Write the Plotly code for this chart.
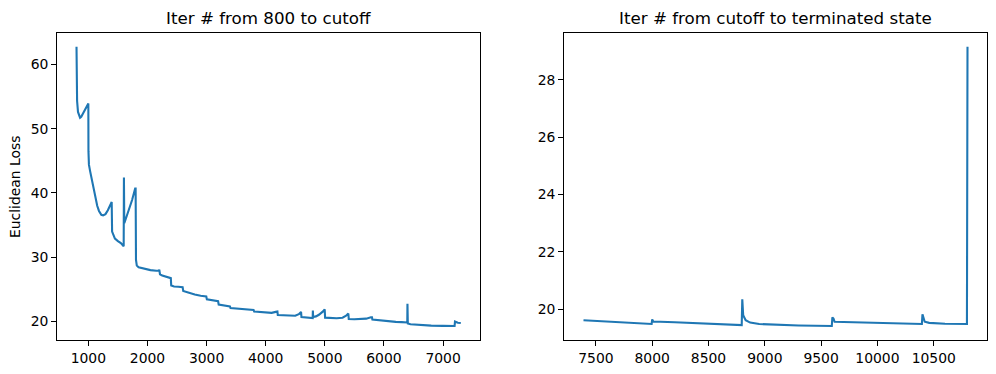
import plotly.graph_objects as go

# ---- data: left panel (iter 800 -> cutoff)
left_iter = [800, 801, 810, 825, 845, 860, 880, 900, 940, 990, 1000,
             1002, 1010, 1030, 1060, 1090, 1120, 1150, 1180, 1220, 1250, 1290, 1330, 1370, 1395,
             1402, 1420, 1450, 1500, 1550, 1598,
             1602, 1608, 1620, 1660, 1700, 1740, 1792,
             1800, 1806, 1820, 1850, 1950, 2050, 2150, 2190, 2200,
             2212, 2250, 2320, 2395,
             2402, 2450, 2520, 2595,
             2605, 2700, 2800, 2900, 2995,
             3005, 3100, 3195,
             3205, 3300, 3395,
             3405, 3500, 3600, 3700, 3795,
             3805, 3900, 4000, 4100, 4170, 4198,
             4205, 4300, 4400, 4500, 4560, 4598,
             4605, 4700, 4795, 4798,
             4802, 4850, 4900, 4960, 4998,
             5005, 5100, 5200, 5300, 5360, 5398,
             5405, 5500, 5600, 5700, 5780, 5798,
             5805, 5900, 6000, 6100, 6200, 6300, 6395, 6398,
             6404, 6450, 6600, 6800, 7000, 7195,
             7202, 7250, 7300]
left_loss = [62.75, 56.8, 54.3, 52.6, 51.8, 51.7, 51.85, 52.2, 53.0, 53.9, 53.9,
             46.5, 44.4, 43.4, 42.1, 40.7, 39.2, 38.0, 37.2, 36.6, 36.5, 36.7, 37.3, 38.1, 38.6,
             34.0, 33.5, 32.9, 32.5, 32.2, 31.7,
             42.4, 35.3, 35.6, 36.6, 37.7, 38.9, 40.7,
             40.7, 29.6, 28.7, 28.45, 28.2, 28.0, 27.9, 27.9, 28.05,
             27.35, 27.15, 26.95, 26.75,
             25.6, 25.45, 25.4, 25.35,
             24.75, 24.45, 24.2, 24.0, 23.9,
             23.45, 23.3, 23.15,
             22.65, 22.45, 22.35,
             22.1, 22.0, 21.9, 21.85, 21.8,
             21.55, 21.45, 21.38, 21.35, 21.5, 21.55,
             21.0, 20.95, 20.9, 20.9, 21.15, 21.5,
             20.7, 20.62, 20.55, 21.7,
             20.7, 20.8, 21.05, 21.5, 21.9,
             20.6, 20.52, 20.5, 20.6, 20.9, 21.25,
             20.4, 20.35, 20.35, 20.45, 20.65, 20.65,
             20.3, 20.2, 20.1, 20.0, 19.95, 19.9, 19.85, 22.75,
             19.7, 19.58, 19.45, 19.36, 19.32, 19.3,
             20.0, 19.82, 19.78]

# ---- data: right panel (cutoff -> terminated state)
right_iter = [7390, 7500, 7700, 7900, 7995,
              8000, 8010, 8200, 8400, 8600, 8795,
              8800, 8808, 8830, 8870, 8950, 9100, 9300, 9595,
              9600, 9610, 9620, 9700, 9900, 10100, 10395,
              10400, 10410, 10420, 10460, 10600, 10795,
              10800]
right_loss = [19.62, 19.6, 19.56, 19.51, 19.49,
              19.65, 19.58, 19.55, 19.51, 19.48, 19.45,
              20.35, 19.8, 19.62, 19.54, 19.49, 19.46, 19.44, 19.42,
              19.72, 19.68, 19.57, 19.56, 19.54, 19.52, 19.49,
              19.83, 19.7, 19.57, 19.53, 19.5, 19.49,
              29.15]

left_ticks = [1000, 2000, 3000, 4000, 5000, 6000, 7000]
left_yticks = [20, 30, 40, 50, 60]
right_ticks = [7500, 8000, 8500, 9000, 9500, 10000, 10500]
right_yticks = [20, 22, 24, 26, 28]

titles = ["Iter # from 800 to cutoff", "Iter # from cutoff to terminated state"]
ylabel = "Euclidean Loss"


def padded(v, frac=0.05):
    lo, hi = min(v), max(v)
    d = (hi - lo) * frac
    return [lo - d, hi + d]


# page body has an 8px margin; lay out in window pixels and shift
OFF = 8
W, H = 996 - OFF, 374 - OFF


def px(x):
    return (x - OFF) / W


def py(y):
    return 1 - (y - OFF) / H


LINE = "#1f77b4"
FONT = "DejaVu Sans"

fig = go.Figure()
fig.add_trace(go.Scatter(x=left_iter, y=left_loss, mode="lines",
                         line=dict(color=LINE, width=2.1), xaxis="x", yaxis="y",
                         showlegend=False, hoverinfo="skip"))
fig.add_trace(go.Scatter(x=right_iter, y=right_loss, mode="lines",
                         line=dict(color=LINE, width=2.1), xaxis="x2", yaxis="y2",
                         showlegend=False, hoverinfo="skip"))

ax_common = dict(showline=True, linecolor="black", linewidth=1.1, mirror=True,
                 ticks="outside", ticklen=5, tickwidth=1.1, tickcolor="black",
                 showgrid=False, zeroline=False, automargin=False,
                 tickfont=dict(family=FONT, size=13.9, color="black"))

ydom = [py(340), py(32.7)]
fig.update_layout(
    width=W, height=H,
    margin=dict(l=0, r=0, t=0, b=0),
    paper_bgcolor="white", plot_bgcolor="white",
    xaxis=dict(domain=[px(57.3), px(480)], range=padded(left_iter),
               tickvals=left_ticks, ticktext=[str(t) for t in left_ticks],
               anchor="y", **ax_common),
    yaxis=dict(domain=ydom, range=padded(left_loss),
               tickvals=left_yticks, ticktext=[str(t) for t in left_yticks],
               anchor="x", **ax_common),
    xaxis2=dict(domain=[px(564.3), px(986.7)], range=padded(right_iter),
                tickvals=right_ticks, ticktext=[str(t) for t in right_ticks],
                anchor="y2", **ax_common),
    yaxis2=dict(domain=ydom, range=padded(right_loss),
                tickvals=right_yticks, ticktext=[str(t) for t in right_yticks],
                anchor="x2", **ax_common),
)

fig.add_annotation(text=titles[0], x=px((57.3 + 480) / 2), y=py(18.5),
                   xref="paper", yref="paper", xanchor="center", yanchor="middle",
                   showarrow=False, font=dict(family=FONT, size=16.7, color="black"))
fig.add_annotation(text=titles[1], x=px((564.3 + 986.7) / 2), y=py(18.5),
                   xref="paper", yref="paper", xanchor="center", yanchor="middle",
                   showarrow=False, font=dict(family=FONT, size=16.7, color="black"))
fig.add_annotation(text=ylabel, x=px(15.5), y=py(186.5), textangle=-90,
                   xref="paper", yref="paper", xanchor="center", yanchor="middle",
                   showarrow=False, font=dict(family=FONT, size=13.9, color="black"))

fig.write_html("out.html")
